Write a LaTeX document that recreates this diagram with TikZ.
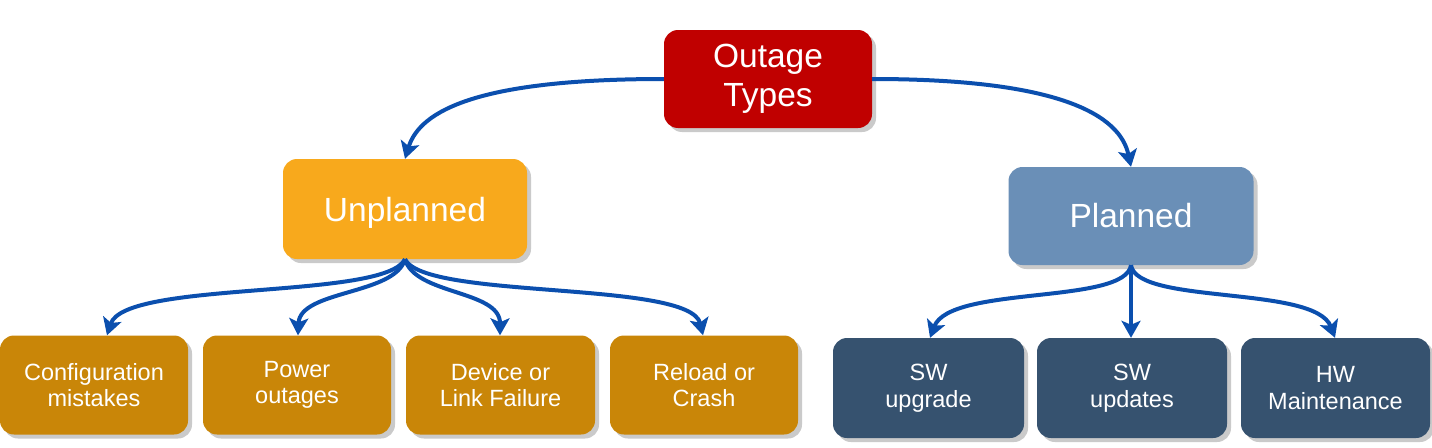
\documentclass[tikz,border=0pt]{standalone}
\usepackage{fontspec}
\setmainfont{Liberation Sans}
\usetikzlibrary{shadows,arrows.meta}
\definecolor{otred}{HTML}{C00000}
\definecolor{unplan}{HTML}{F8A91C}
\definecolor{unsub}{HTML}{C98608}
\definecolor{plan}{HTML}{6A8FB7}
\definecolor{plsub}{HTML}{36526F}
\definecolor{arr}{HTML}{0B4FAE}
\tikzset{
  box/.style={rounded corners=14pt, inner sep=0pt, align=center, text=white,
    drop shadow={shadow xshift=4pt, shadow yshift=-4pt, opacity=0.35, fill=black!60}},
  bigbox/.style={box, font=\fontsize{33.5}{39}\selectfont},
  smallbox/.style={box, font=\fontsize{23.5}{26.5}\selectfont},
  conn/.style={draw=arr, line width=4pt, -{Stealth[length=17pt,width=19pt,inset=4pt]}}
}
\begin{document}
\begin{tikzpicture}[x=1pt,y={(0pt,-1pt)}]
\useasboundingbox (0,0) rectangle (1432,447);
\node[bigbox, fill=otred, minimum width=208pt, minimum height=98pt] (OT) at (768,79) {Outage\\Types};
\node[bigbox, fill=unplan, minimum width=244pt, minimum height=100pt, text depth=0pt] (UP) at (405,209) {Unplanned};
\node[bigbox, fill=plan, minimum width=245pt, minimum height=98pt] (PL) at (1131,216) {Planned};

\node[smallbox, fill=unsub, minimum width=188pt, minimum height=99pt] (CF) at (94,385) {Configuration\\mistakes};
\node[smallbox, fill=unsub, minimum width=188pt, minimum height=99pt] (PO) at (297,385) {Power\\outages};
\node[smallbox, fill=unsub, minimum width=189pt, minimum height=99pt] (DL) at (500.5,385) {Device or\\Link Failure};
\node[smallbox, fill=unsub, minimum width=188pt, minimum height=99pt] (RC) at (704,385) {Reload or\\Crash};

\node[smallbox, fill=plsub, minimum width=191pt, minimum height=100pt] (SU) at (928.5,388) {SW\\upgrade};
\node[smallbox, fill=plsub, minimum width=190pt, minimum height=100pt] (SD) at (1132,388) {SW\\updates};
\node[smallbox, fill=plsub, minimum width=189pt, minimum height=100pt] (HW) at (1335.5,388) {HW\\Maintenance};

\draw[conn] (OT.west) .. controls (480,79) and (420,110) .. (UP.north);
\draw[conn] (OT.east) .. controls (1060,79) and (1120,115) .. (PL.north);

\draw[conn] (UP.south) .. controls (385,300) and (125,280) .. ([xshift=13pt]CF.north);
\draw[conn] (UP.south) .. controls (395,295) and (300,290) .. ([xshift=1pt]PO.north);
\draw[conn] (UP.south) .. controls (415,295) and (500,290) .. ([xshift=-0.5pt]DL.north);
\draw[conn] (UP.south) .. controls (425,300) and (690,280) .. ([xshift=-1pt]RC.north);

\draw[conn] (PL.south) .. controls (1125,305) and (950,285) .. ([xshift=1.5pt]SU.north);
\draw[conn] (PL.south) -- ([xshift=-1pt]SD.north);
\draw[conn] (PL.south) .. controls (1137,305) and (1315,285) .. ([xshift=-0.5pt]HW.north);
\end{tikzpicture}
\end{document}
